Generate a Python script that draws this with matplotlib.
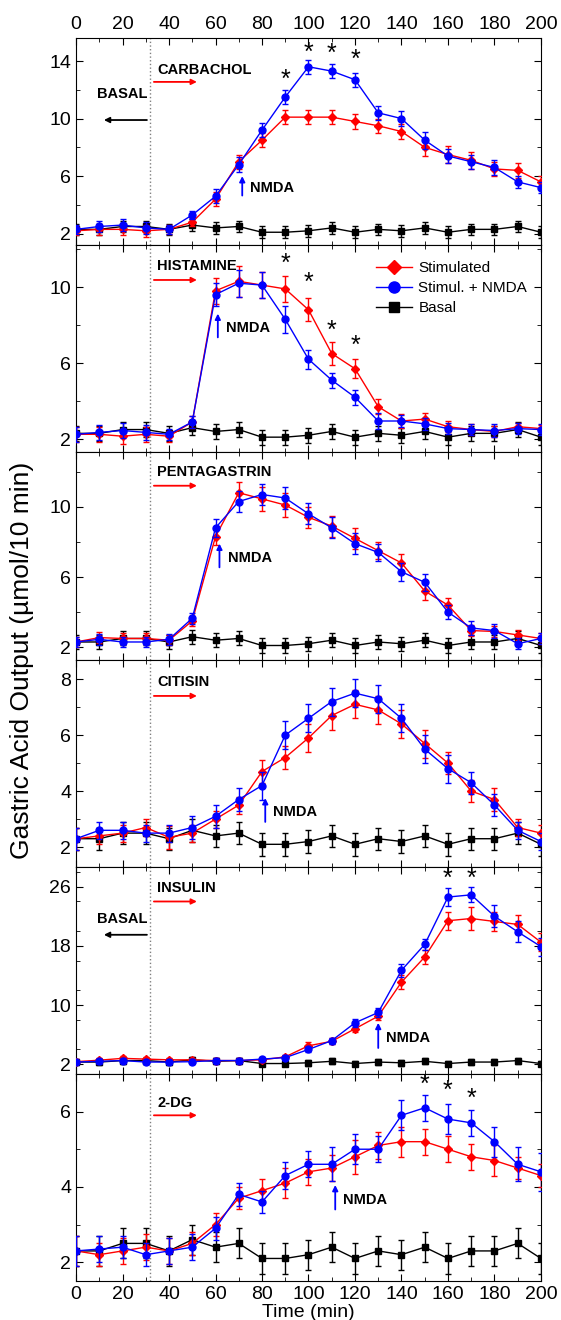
import numpy as np
import matplotlib
matplotlib.use('Agg')
import matplotlib.pyplot as plt
from matplotlib.ticker import MultipleLocator
from matplotlib.lines import Line2D

plt.rcParams['font.family'] = ['Liberation Sans', 'DejaVu Sans']

time = list(range(0, 201, 10))

# basal secretion (same protocol in every panel)
basal = [2.3, 2.3, 2.5, 2.5, 2.3, 2.6, 2.4, 2.5, 2.1, 2.1, 2.2, 2.4, 2.1, 2.3, 2.2, 2.4, 2.1, 2.3, 2.3, 2.5, 2.1]
basal_err = [0.4] * 21

# carbachol
carb_stim = [2.2, 2.3, 2.3, 2.2, 2.3, 2.8, 4.4, 7.0, 8.5, 10.1, 10.1, 10.1, 9.8, 9.5, 9.1, 8.0, 7.5, 7.1, 6.5, 6.4, 5.6]
carb_stim_err = [0.3, 0.4, 0.4, 0.4, 0.3, 0.3, 0.5, 0.5, 0.5, 0.5, 0.5, 0.5, 0.5, 0.5, 0.5, 0.6, 0.6, 0.6, 0.5, 0.5, 0.4]
carb_nmda = [2.3, 2.5, 2.6, 2.4, 2.3, 3.3, 4.6, 6.8, 9.2, 11.5, 13.6, 13.3, 12.7, 10.4, 10.0, 8.5, 7.4, 7.0, 6.6, 5.6, 5.2]
carb_nmda_err = [0.3, 0.4, 0.4, 0.4, 0.3, 0.3, 0.5, 0.5, 0.5, 0.5, 0.5, 0.5, 0.5, 0.5, 0.5, 0.6, 0.5, 0.5, 0.5, 0.4, 0.4]

# histamine
hist_stim = [2.25, 2.25, 2.15, 2.25, 2.15, 2.9, 9.8, 10.3, 10.1, 9.9, 8.8, 6.5, 5.7, 3.7, 2.95, 3.05, 2.65, 2.5, 2.4, 2.65, 2.55]
hist_stim_err = [0.4, 0.4, 0.4, 0.4, 0.3, 0.3, 0.7, 0.8, 0.7, 0.7, 0.6, 0.6, 0.5, 0.4, 0.35, 0.3, 0.3, 0.3, 0.3, 0.2, 0.2]
hist_nmda = [2.25, 2.35, 2.45, 2.35, 2.25, 2.9, 9.6, 10.2, 10.1, 8.3, 6.2, 5.1, 4.2, 2.95, 2.95, 2.8, 2.55, 2.5, 2.45, 2.55, 2.5]
hist_nmda_err = [0.4, 0.4, 0.4, 0.4, 0.3, 0.3, 0.6, 0.7, 0.7, 0.7, 0.5, 0.4, 0.4, 0.4, 0.3, 0.3, 0.3, 0.3, 0.35, 0.3, 0.3]

# pentagastrin
penta_stim = [2.3, 2.55, 2.5, 2.5, 2.4, 3.5, 8.3, 10.8, 10.45, 10.1, 9.4, 8.9, 8.2, 7.5, 6.8, 5.2, 4.4, 2.95, 2.9, 2.7, 2.5]
penta_stim_err = [0.3, 0.3, 0.3, 0.3, 0.3, 0.3, 0.5, 0.6, 0.7, 0.7, 0.6, 0.6, 0.6, 0.5, 0.5, 0.5, 0.4, 0.3, 0.3, 0.3, 0.3]
penta_nmda = [2.3, 2.45, 2.3, 2.3, 2.45, 3.65, 8.8, 10.3, 10.7, 10.5, 9.6, 8.8, 7.9, 7.4, 6.3, 5.7, 4.0, 3.1, 2.95, 2.2, 2.5]
penta_nmda_err = [0.3, 0.3, 0.3, 0.3, 0.3, 0.3, 0.5, 0.6, 0.6, 0.6, 0.6, 0.6, 0.6, 0.5, 0.5, 0.5, 0.4, 0.4, 0.4, 0.3, 0.3]

# citisin
citi_stim = [2.3, 2.4, 2.5, 2.7, 2.35, 2.5, 3.0, 3.5, 4.7, 5.2, 5.9, 6.7, 7.1, 6.9, 6.4, 5.7, 5.0, 4.0, 3.7, 2.7, 2.5]
citi_stim_err = [0.4, 0.3, 0.3, 0.3, 0.4, 0.3, 0.3, 0.3, 0.4, 0.4, 0.5, 0.5, 0.5, 0.5, 0.5, 0.5, 0.4, 0.4, 0.4, 0.3, 0.3]
citi_nmda = [2.3, 2.6, 2.6, 2.5, 2.5, 2.7, 3.1, 3.7, 4.2, 6.0, 6.6, 7.2, 7.5, 7.3, 6.6, 5.5, 4.8, 4.3, 3.5, 2.6, 2.2]
citi_nmda_err = [0.4, 0.3, 0.3, 0.3, 0.3, 0.4, 0.4, 0.4, 0.5, 0.5, 0.5, 0.5, 0.5, 0.5, 0.5, 0.5, 0.5, 0.4, 0.4, 0.3, 0.3]

# insulin
ins_stim = [2.35, 2.55, 2.8, 2.7, 2.6, 2.6, 2.5, 2.5, 2.6, 3.0, 4.5, 5.1, 6.8, 8.5, 13.1, 16.5, 21.4, 21.7, 21.3, 20.9, 18.5]
ins_stim_err = [0.3, 0.3, 0.3, 0.3, 0.3, 0.3, 0.3, 0.3, 0.3, 0.3, 0.5, 0.4, 0.5, 0.5, 0.9, 1.0, 1.2, 1.5, 1.3, 1.3, 1.2]
ins_nmda = [2.3, 2.4, 2.5, 2.3, 2.3, 2.35, 2.5, 2.5, 2.7, 2.9, 4.0, 5.2, 7.6, 9.0, 14.7, 18.2, 24.6, 24.9, 22.0, 19.9, 17.9]
ins_nmda_err = [0.3, 0.3, 0.3, 0.3, 0.3, 0.3, 0.3, 0.3, 0.3, 0.3, 0.4, 0.4, 0.5, 0.6, 0.9, 0.7, 1.2, 1.0, 1.5, 1.4, 1.2]

# 2-deoxyglucose
dg_stim = [2.3, 2.2, 2.3, 2.4, 2.3, 2.5, 3.0, 3.7, 3.9, 4.1, 4.4, 4.5, 4.8, 5.1, 5.2, 5.2, 5.0, 4.8, 4.7, 4.5, 4.3]
dg_stim_err = [0.4, 0.3, 0.35, 0.35, 0.35, 0.3, 0.3, 0.3, 0.3, 0.4, 0.35, 0.35, 0.45, 0.35, 0.4, 0.35, 0.35, 0.35, 0.4, 0.3, 0.3]
dg_nmda = [2.3, 2.35, 2.4, 2.2, 2.3, 2.4, 2.9, 3.8, 3.6, 4.3, 4.6, 4.6, 5.0, 5.0, 5.9, 6.1, 5.8, 5.7, 5.2, 4.6, 4.4]
dg_nmda_err = [0.4, 0.35, 0.3, 0.3, 0.35, 0.35, 0.3, 0.3, 0.3, 0.35, 0.35, 0.45, 0.4, 0.35, 0.4, 0.35, 0.4, 0.35, 0.4, 0.45, 0.5]

panels = [
    dict(name='CARBACHOL', stim=carb_stim, se=carb_stim_err, nmda=carb_nmda, ne=carb_nmda_err,
         ylim=(1.2, 15.6), ticks=[2, 6, 10, 14], minor=2, text_y=13.4, arrow_y=12.55,
         nmda_x=71.5, nmda_y=(4.65, 6.0), basal_lab=(11.7, 9.9),
         stars=[(90, 12.7), (100, 14.6), (110, 14.5), (120, 14.1)]),
    dict(name='HISTAMINE', stim=hist_stim, se=hist_stim_err, nmda=hist_nmda, ne=hist_nmda_err,
         ylim=(1.3, 12.2), ticks=[2, 6, 10], minor=2, text_y=11.1, arrow_y=10.37,
         nmda_x=61, nmda_y=(7.35, 8.6), basal_lab=None,
         stars=[(90, 11.2), (100, 10.2), (110, 7.7), (120, 6.9)]),
    dict(name='PENTAGASTRIN', stim=penta_stim, se=penta_stim_err, nmda=penta_nmda, ne=penta_nmda_err,
         ylim=(1.3, 13.1), ticks=[2, 6, 10], minor=2, text_y=12.0, arrow_y=11.2,
         nmda_x=61.7, nmda_y=(6.55, 7.9), basal_lab=None, stars=[]),
    dict(name='CITISIN', stim=citi_stim, se=citi_stim_err, nmda=citi_nmda, ne=citi_nmda_err,
         ylim=(1.3, 8.7), ticks=[2, 4, 6, 8], minor=1, text_y=7.9, arrow_y=7.4,
         nmda_x=81.4, nmda_y=(2.9, 3.75), basal_lab=None, stars=[]),
    dict(name='INSULIN', stim=ins_stim, se=ins_stim_err, nmda=ins_nmda, ne=ins_nmda_err,
         ylim=(0.7, 28.7), ticks=[2, 10, 18, 26], minor=4, text_y=25.8, arrow_y=24.0,
         nmda_x=130, nmda_y=(4.2, 7.6), basal_lab=(21.7, 19.5),
         stars=[(160, 27.0), (170, 27.0)]),
    dict(name='2-DG', stim=dg_stim, se=dg_stim_err, nmda=dg_nmda, ne=dg_nmda_err,
         ylim=(1.5, 7.0), ticks=[2, 4, 6], minor=1, text_y=6.23, arrow_y=5.9,
         nmda_x=111.5, nmda_y=(3.4, 4.05), basal_lab=None,
         stars=[(150, 6.7), (160, 6.55), (170, 6.35)]),
]

fig, axes = plt.subplots(6, 1, figsize=(5.61, 13.2), dpi=100, sharex=True)
fig.subplots_adjust(left=0.1355, right=0.9643, top=0.9712, bottom=0.0295, hspace=0)

for i, (ax, p) in enumerate(zip(axes, panels)):
    ax.errorbar(time, basal, yerr=basal_err, color='black', marker='s', ms=4.5, lw=1,
                capsize=2, elinewidth=1, zorder=2)
    ax.errorbar(time, p['stim'], yerr=p['se'], color='red', marker='D', ms=4, lw=1,
                capsize=2, elinewidth=1, zorder=3)
    ax.errorbar(time, p['nmda'], yerr=p['ne'], color='blue', marker='o', ms=5, lw=1,
                capsize=2, elinewidth=1, zorder=4)

    ax.axvline(32, color='grey', ls=':', lw=1, zorder=1)
    ax.set_xlim(0, 200)
    ax.set_ylim(*p['ylim'])
    ax.set_yticks(p['ticks'])
    ax.yaxis.set_minor_locator(MultipleLocator(p['minor']))
    ax.xaxis.set_major_locator(MultipleLocator(20))
    ax.xaxis.set_minor_locator(MultipleLocator(10))
    ax.tick_params(which='both', direction='in', top=True, right=True, labelsize=14)
    ax.tick_params(which='major', length=5)
    ax.tick_params(which='minor', length=3)
    if i == 0:
        ax.tick_params(labeltop=True)

    # stimulus label and arrow
    ax.text(35, p['text_y'], p['name'], fontsize=10.5, fontweight='bold', va='center')
    ax.annotate('', xy=(52, p['arrow_y']), xytext=(33.5, p['arrow_y']),
                arrowprops=dict(arrowstyle='-|>', color='red', lw=1.3,
                                mutation_scale=8, shrinkA=0, shrinkB=0))
    # NMDA arrow
    y0, y1 = p['nmda_y']
    ax.annotate('', xy=(p['nmda_x'], y1), xytext=(p['nmda_x'], y0),
                arrowprops=dict(arrowstyle='-|>', color='blue', lw=1.3,
                                mutation_scale=8, shrinkA=0, shrinkB=0))
    ax.text(p['nmda_x'] + 3.5, (y0 + y1) / 2 - (y1 - y0) * 0.1, 'NMDA',
            fontsize=10.5, fontweight='bold', va='center')
    if p['basal_lab'] is not None:
        ty, ay = p['basal_lab']
        ax.text(9, ty, 'BASAL', fontsize=10.5, fontweight='bold', va='center')
        ax.annotate('', xy=(12, ay), xytext=(30.5, ay),
                    arrowprops=dict(arrowstyle='-|>', color='black', lw=1.3,
                                    mutation_scale=8, shrinkA=0, shrinkB=0))
    for sx, sy in p['stars']:
        ax.text(sx, sy, '*', fontsize=18, ha='center', va='center')

    if i == 1:
        handles = [Line2D([], [], color='red', marker='D', ms=7, lw=1),
                   Line2D([], [], color='blue', marker='o', ms=8, lw=1),
                   Line2D([], [], color='black', marker='s', ms=6.5, lw=1)]
        ax.legend(handles, ['Stimulated', 'Stimul. + NMDA', 'Basal'], loc='upper right',
                  bbox_to_anchor=(1.0, 0.99), frameon=False, fontsize=11,
                  handlelength=2.4, labelspacing=0.4, handletextpad=0.4)

axes[-1].set_xlabel('Time (min)', fontsize=14, labelpad=1)
fig.text(0.04, 0.5, 'Gastric Acid Output (\u00b5mol/10 min)', rotation=90,
         fontsize=19, ha='center', va='center')

fig.savefig('out.png', dpi=100)
